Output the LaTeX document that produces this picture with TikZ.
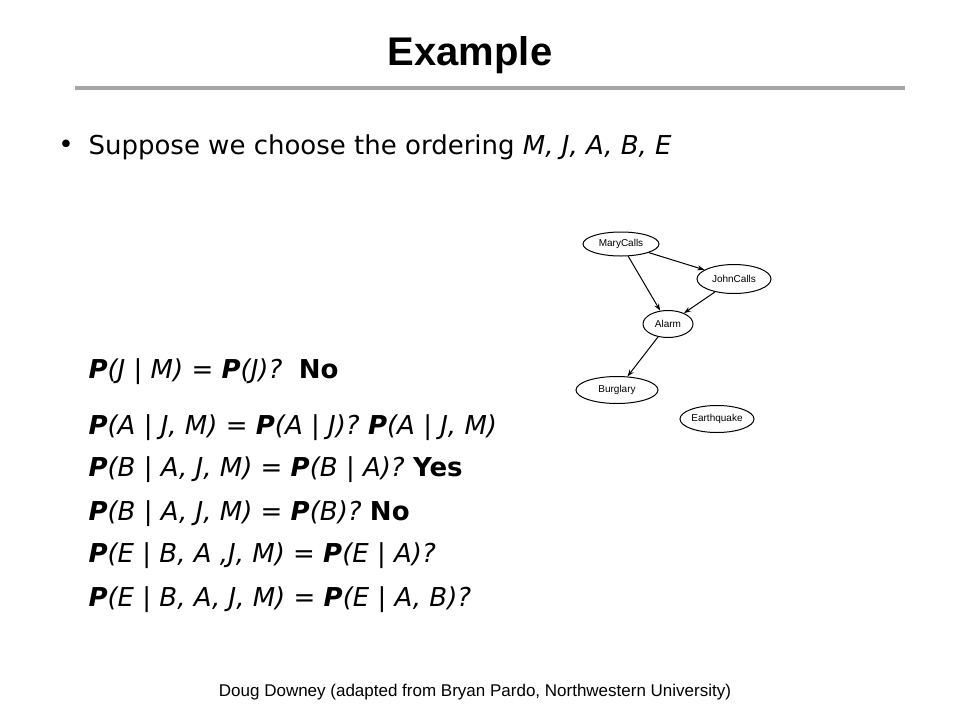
\documentclass[tikz,border=0pt]{standalone}
\usepackage{fontspec}
\setmainfont{DejaVu Sans}
\newfontfamily\arialf{Liberation Sans}
\usetikzlibrary{shapes.geometric,arrows.meta}
\newcommand{\PB}{\textbf{\textit{P}}}
\begin{document}
\begin{tikzpicture}[x=1pt,y=-1pt,
  gn/.style={draw,ellipse,line width=1pt,inner sep=0pt,font=\arialf\fontsize{10}{12}\selectfont},
  ga/.style={-{Stealth[length=7pt,width=5pt]},line width=1pt},
  ln/.style={anchor=west,font=\fontsize{26}{30}\selectfont}]
\useasboundingbox (0,0) rectangle (960,720);
\node[font=\arialf\bfseries\fontsize{40}{46}\selectfont] (title) at (470,55) {Example};
\draw[line width=4pt,gray!70] (75,88) -- (905,88);
\node[font=\fontsize{26}{30}\selectfont] (bul) at (66,147) {•};
\node[ln] (l0) at (85,147) {Suppose we choose the ordering \textit{M, J, A, B, E}};
\node[ln] (l1) at (85,372) {\PB\textit{(J | M) =} \PB\textit{(J)?} \ \textbf{No}};
\node[ln] (l2) at (85,428) {\PB\textit{(A | J, M) =} \PB\textit{(A | J)?} \PB\textit{(A | J, M)}};
\node[ln] (l3) at (85,470) {\PB\textit{(B | A, J, M) =} \PB\textit{(B | A)?} \textbf{Yes}};
\node[ln] (l4) at (85,514) {\PB\textit{(B | A, J, M) =} \PB\textit{(B)?} \textbf{No}};
\node[ln] (l5) at (85,556) {\PB\textit{(E | B, A ,J, M) =} \PB\textit{(E | A)?}};
\node[ln] (l6) at (85,600) {\PB\textit{(E | B, A, J, M) =} \PB\textit{(E | A, B)?}};
\node[font=\arialf\fontsize{17}{20}\selectfont] (foot) at (475,692) {Doug Downey (adapted from Bryan Pardo, Northwestern University)};
\node[gn,minimum width=76pt,minimum height=24pt] (mc) at (621,244) {MaryCalls};
\node[gn,minimum width=74pt,minimum height=29pt] (jc) at (734,279) {JohnCalls};
\node[gn,minimum width=50pt,minimum height=27pt] (al) at (668,324) {Alarm};
\node[gn,minimum width=82pt,minimum height=27pt] (bu) at (617,390) {Burglary};
\node[gn,minimum width=74pt,minimum height=27pt] (eq) at (717,419) {Earthquake};
\draw[ga] (mc) -- (jc);
\draw[ga] (mc) -- (al);
\draw[ga] (jc) -- (al);
\draw[ga] (al) -- (bu);
\end{tikzpicture}
\end{document}
